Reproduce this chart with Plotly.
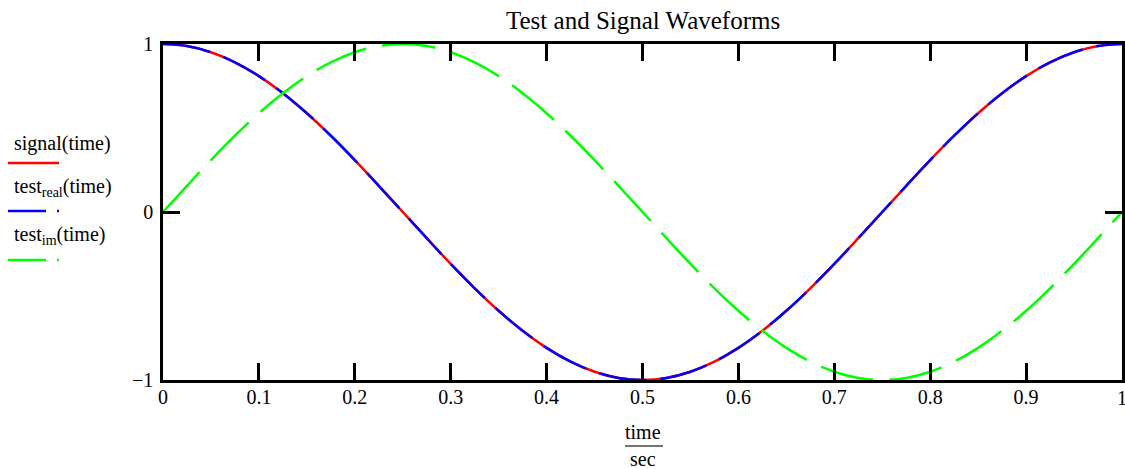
import plotly.graph_objects as go

# ---- data ----
time = [0.0, 0.025, 0.05, 0.075, 0.1, 0.125, 0.15, 0.175, 0.2, 0.225, 0.25,
        0.275, 0.3, 0.325, 0.35, 0.375, 0.4, 0.425, 0.45, 0.475, 0.5,
        0.525, 0.55, 0.575, 0.6, 0.625, 0.65, 0.675, 0.7, 0.725, 0.75,
        0.775, 0.8, 0.825, 0.85, 0.875, 0.9, 0.925, 0.95, 0.975, 1.0]
signal = [1.0, 0.988, 0.951, 0.891, 0.809, 0.707, 0.588, 0.454, 0.309, 0.156, 0.0,
          -0.156, -0.309, -0.454, -0.588, -0.707, -0.809, -0.891, -0.951, -0.988, -1.0,
          -0.988, -0.951, -0.891, -0.809, -0.707, -0.588, -0.454, -0.309, -0.156, 0.0,
          0.156, 0.309, 0.454, 0.588, 0.707, 0.809, 0.891, 0.951, 0.988, 1.0]
test_real = [1.0, 0.988, 0.951, 0.891, 0.809, 0.707, 0.588, 0.454, 0.309, 0.156, 0.0,
             -0.156, -0.309, -0.454, -0.588, -0.707, -0.809, -0.891, -0.951, -0.988, -1.0,
             -0.988, -0.951, -0.891, -0.809, -0.707, -0.588, -0.454, -0.309, -0.156, 0.0,
             0.156, 0.309, 0.454, 0.588, 0.707, 0.809, 0.891, 0.951, 0.988, 1.0]
test_im = [0.0, 0.156, 0.309, 0.454, 0.588, 0.707, 0.809, 0.891, 0.951, 0.988, 1.0,
           0.988, 0.951, 0.891, 0.809, 0.707, 0.588, 0.454, 0.309, 0.156, 0.0,
           -0.156, -0.309, -0.454, -0.588, -0.707, -0.809, -0.891, -0.951, -0.988, -1.0,
           -0.988, -0.951, -0.891, -0.809, -0.707, -0.588, -0.454, -0.309, -0.156, 0.0]
x_ticks = [0, 0.1, 0.2, 0.3, 0.4, 0.5, 0.6, 0.7, 0.8, 0.9, 1]
x_tick_labels = ["0", "0.1", "0.2", "0.3", "0.4", "0.5", "0.6", "0.7", "0.8", "0.9", "1"]
y_ticks = [-1, 0, 1]
y_tick_labels = ["\u22121", "0", "1"]
title = "Test and Signal Waveforms"
legend_labels = ["signal(time)", "test<sub>real</sub>(time)", "test<sub>im</sub>(time)"]

# ---- layout geometry ----
W, H = 1125, 469
L, R, T, B = 163, 1122, 44, 380
FONT = "Liberation Serif"


def px(x):
    return (x - L) / (R - L)


def py(y):
    return (B - y) / (B - T)


fig = go.Figure()
fig.add_trace(go.Scatter(x=time, y=signal, mode="lines", line_shape="spline",
                         line=dict(color="#ff0000", width=2.5), showlegend=False))
fig.add_trace(go.Scatter(x=time, y=test_real, mode="lines", line_shape="spline",
                         line=dict(color="#0000ff", width=2.5, dash="48px,14px"), showlegend=False))
fig.add_trace(go.Scatter(x=time, y=test_im, mode="lines", line_shape="spline",
                         line=dict(color="#00ff00", width=2.5, dash="54px,16px"), showlegend=False))

annotations = []
shapes = []

# title
annotations.append(dict(text=title, x=px(643), y=py(20), xref="paper", yref="paper",
                        xanchor="center", yanchor="middle", showarrow=False,
                        font=dict(family=FONT, size=25, color="black")))

# legend (Mathcad style)
leg_colors = ["#ff0000", "#0000ff", "#00ff00"]
leg_text_y = [143, 187, 235]
leg_line_y = [163, 211, 260]
for i, (lab, c, ty, ly) in enumerate(zip(legend_labels, leg_colors, leg_text_y, leg_line_y)):
    annotations.append(dict(text=lab, x=px(12), y=py(ty), xref="paper", yref="paper",
                            xanchor="left", yanchor="middle", showarrow=False,
                            font=dict(family=FONT, size=20, color="black")))
    if i == 0:
        shapes.append(dict(type="line", xref="paper", yref="paper",
                           x0=px(8), x1=px(59), y0=py(ly), y1=py(ly),
                           line=dict(color=c, width=2.5)))
    else:
        shapes.append(dict(type="line", xref="paper", yref="paper",
                           x0=px(8), x1=px(46), y0=py(ly), y1=py(ly),
                           line=dict(color=c, width=2.5)))
        shapes.append(dict(type="line", xref="paper", yref="paper",
                           x0=px(57), x1=px(59), y0=py(ly), y1=py(ly),
                           line=dict(color=c, width=2.5)))

# last x tick label, partly cut by the right edge as in the reference
annotations.append(dict(text=x_tick_labels[-1], x=x_ticks[-1], y=py(398), xref="x", yref="paper",
                        xanchor="center", yanchor="middle", showarrow=False,
                        font=dict(family=FONT, size=20, color="black")))

# x-axis title as a fraction
annotations.append(dict(text="time", x=px(643), y=py(432), xref="paper", yref="paper",
                        xanchor="center", yanchor="middle", showarrow=False,
                        font=dict(family=FONT, size=20, color="black")))
annotations.append(dict(text="sec", x=px(643), y=py(459), xref="paper", yref="paper",
                        xanchor="center", yanchor="middle", showarrow=False,
                        font=dict(family=FONT, size=20, color="black")))
shapes.append(dict(type="line", xref="paper", yref="paper",
                   x0=px(625), x1=px(663), y0=py(446), y1=py(446),
                   line=dict(color="#444444", width=1.5)))

axis_common = dict(showgrid=False, zeroline=False, showline=True, linecolor="black",
                   linewidth=2.5, mirror="ticks", ticks="inside", ticklen=17,
                   tickwidth=2.5, tickcolor="black", automargin=False,
                   tickfont=dict(family=FONT, size=20, color="black"))

fig.update_layout(
    width=W, height=H,
    template="none",
    paper_bgcolor="white", plot_bgcolor="white",
    margin=dict(l=L, r=W - R, t=T, b=H - B, pad=0),
    xaxis=dict(range=[0, 1], tickvals=x_ticks, ticktext=x_tick_labels,
               ticklabelstandoff=-3, **axis_common),
    yaxis=dict(range=[-1, 1], tickvals=y_ticks, ticktext=y_tick_labels,
               ticklabelstandoff=3, **axis_common),
    annotations=annotations,
    shapes=shapes,
    showlegend=False,
)

fig.write_html(
    "out.html",
    config={"displayModeBar": False},
    post_script="document.documentElement.style.margin='0';document.documentElement.style.overflow='hidden';"
                "document.body.style.margin='0';document.body.style.padding='0';document.body.style.overflow='hidden';",
)
